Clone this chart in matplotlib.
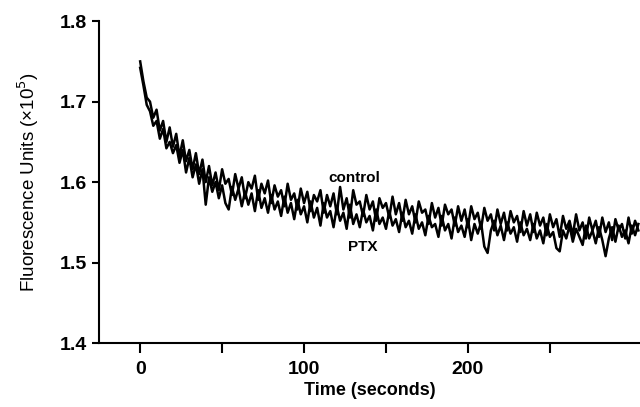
import numpy as np
import matplotlib
matplotlib.use("Agg")
from matplotlib import pyplot as plt

# fluorescence traces, every 2 s (x 1e5 units)
control = [1.750, 1.725, 1.705, 1.700, 1.680, 1.690, 1.664, 1.676, 1.650, 1.668,
           1.644, 1.660, 1.632, 1.652, 1.626, 1.640, 1.616, 1.636, 1.610, 1.628,
           1.600, 1.620, 1.596, 1.612, 1.590, 1.616, 1.598, 1.604, 1.584, 1.610,
           1.592, 1.606, 1.580, 1.600, 1.592, 1.608, 1.578, 1.598, 1.586, 1.602,
           1.574, 1.596, 1.582, 1.590, 1.570, 1.598, 1.578, 1.586, 1.566, 1.592,
           1.574, 1.588, 1.564, 1.584, 1.576, 1.590, 1.562, 1.584, 1.570, 1.586,
           1.560, 1.594, 1.566, 1.580, 1.556, 1.590, 1.572, 1.576, 1.558, 1.584,
           1.566, 1.576, 1.552, 1.580, 1.568, 1.574, 1.556, 1.582, 1.560, 1.574,
           1.552, 1.578, 1.560, 1.570, 1.550, 1.576, 1.562, 1.566, 1.548, 1.574,
           1.556, 1.568, 1.546, 1.572, 1.560, 1.566, 1.546, 1.570, 1.552, 1.566,
           1.544, 1.570, 1.554, 1.562, 1.542, 1.568, 1.552, 1.560, 1.540, 1.566,
           1.548, 1.562, 1.540, 1.564, 1.550, 1.558, 1.538, 1.564, 1.546, 1.560,
           1.538, 1.562, 1.546, 1.556, 1.534, 1.560, 1.544, 1.554, 1.532, 1.558,
           1.542, 1.552, 1.534, 1.560, 1.540, 1.550, 1.530, 1.556, 1.540, 1.552,
           1.532, 1.556, 1.538, 1.550, 1.528, 1.554, 1.540, 1.548, 1.530, 1.556,
           1.536, 1.552, 1.540]

ptx = [1.742, 1.720, 1.696, 1.688, 1.670, 1.676, 1.654, 1.666, 1.642, 1.650,
       1.636, 1.646, 1.624, 1.640, 1.612, 1.630, 1.606, 1.622, 1.598, 1.616,
       1.572, 1.606, 1.588, 1.600, 1.580, 1.596, 1.574, 1.566, 1.594, 1.578,
       1.592, 1.570, 1.588, 1.572, 1.586, 1.564, 1.590, 1.568, 1.580, 1.562,
       1.584, 1.566, 1.576, 1.558, 1.582, 1.562, 1.574, 1.554, 1.578, 1.560,
       1.570, 1.550, 1.576, 1.556, 1.568, 1.546, 1.574, 1.556, 1.564, 1.544,
       1.570, 1.552, 1.562, 1.542, 1.572, 1.548, 1.560, 1.544, 1.566, 1.550,
       1.558, 1.540, 1.566, 1.548, 1.556, 1.542, 1.564, 1.546, 1.554, 1.538,
       1.562, 1.544, 1.552, 1.536, 1.560, 1.542, 1.550, 1.534, 1.558, 1.544,
       1.548, 1.532, 1.558, 1.540, 1.548, 1.530, 1.556, 1.538, 1.546, 1.532,
       1.554, 1.528, 1.548, 1.536, 1.550, 1.520, 1.512, 1.540, 1.552, 1.534,
       1.546, 1.528, 1.550, 1.536, 1.544, 1.526, 1.550, 1.534, 1.542, 1.528,
       1.548, 1.530, 1.540, 1.524, 1.548, 1.532, 1.538, 1.518, 1.514, 1.540,
       1.530, 1.546, 1.526, 1.542, 1.532, 1.522, 1.546, 1.530, 1.540, 1.524,
       1.544, 1.528, 1.508, 1.530, 1.544, 1.526, 1.546, 1.532, 1.540, 1.524,
       1.546, 1.534, 1.548]

t_control = np.arange(len(control)) * 2
t_ptx = np.arange(len(ptx)) * 2

plt.rcParams['font.family'] = ['Liberation Sans', 'DejaVu Sans']

fig = plt.figure(figsize=(6.4, 4.07), dpi=100)
ax = fig.add_axes([0.155, 0.157, 0.845, 0.791])

ax.plot(t_control, control, color='black', lw=1.8)
ax.plot(t_ptx, ptx, color='black', lw=1.8)

ax.text(130.5, 1.605, 'control', fontsize=11, fontweight='bold', ha='center', va='center')
ax.text(136, 1.520, 'PTX', fontsize=11, fontweight='bold', ha='center', va='center')

ax.set_xlim(-25, 305)
ax.set_ylim(1.4, 1.8)
ax.set_xticks([0, 50, 100, 150, 200, 250])
ax.set_xticklabels(['0', '', '100', '', '200', ''])
ax.set_yticks([1.4, 1.5, 1.6, 1.7, 1.8])
ax.set_yticklabels(['1.4', '1.5', '1.6', '1.7', '1.8'])

for s in ['top', 'right']:
    ax.spines[s].set_visible(False)
for s in ['left', 'bottom']:
    ax.spines[s].set_linewidth(1.5)

ax.tick_params(axis='x', length=7, width=1.5, direction='out', labelsize=14, pad=6)
ax.tick_params(axis='y', length=5, width=1.5, direction='out', labelsize=14, pad=4)
for lab in ax.get_xticklabels() + ax.get_yticklabels():
    lab.set_fontweight('bold')

ax.set_xlabel('Time (seconds)', fontsize=13, fontweight='bold', labelpad=3)
ax.set_ylabel('Fluorescence Units (\u00d710$^5$)', fontsize=13.5, labelpad=13)

fig.savefig('out.png', dpi=100)
